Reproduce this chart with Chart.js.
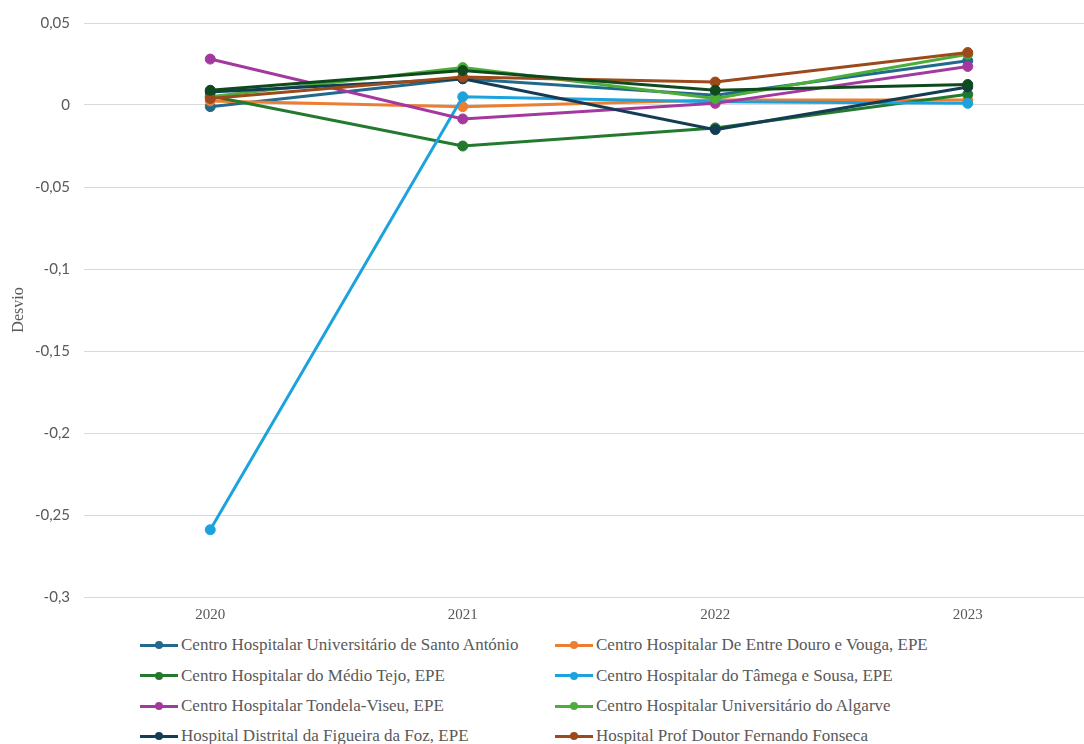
<!DOCTYPE html>
<html>
<head>
<meta charset="utf-8">
<script src="https://cdn.jsdelivr.net/npm/chart.js@4.4.1/dist/chart.umd.min.js"></script>
<style>
  html, body { margin: 0; padding: 0; background: #ffffff; }
  #wrap { position: relative; width: 1084px; height: 744px; overflow: hidden; background: #fff; }
  #box { position: absolute; left: 0; top: 0; width: 1100px; height: 632px; }
  .leg { position: absolute; display: flex; align-items: center; font-family: "Liberation Serif", "Times New Roman", serif; font-size: 17px; color: #595959; white-space: nowrap; height: 20px; }
  .sw { position: relative; width: 38px; height: 20px; margin-right: 3px; }
  .sw .ln { position: absolute; left: 0; right: 0; top: 8.5px; height: 3px; }
  .sw .dt { position: absolute; left: 15px; top: 6px; width: 8px; height: 8px; border-radius: 50%; }
</style>
</head>
<body>
<div id="wrap">
  <div id="box"><canvas id="c" width="1100" height="632"></canvas></div>
</div>
<script>
const years = ['2020', '2021', '2022', '2023'];
const yTicks = [0.05, 0, -0.05, -0.1, -0.15, -0.2, -0.25, -0.3];

const seriesNames = [
  'Centro Hospitalar Universitário de Santo António',
  'Centro Hospitalar De Entre Douro e Vouga, EPE',
  'Centro Hospitalar do Médio Tejo, EPE',
  'Centro Hospitalar do Tâmega e Sousa, EPE',
  'Centro Hospitalar Tondela-Viseu, EPE',
  'Centro Hospitalar Universitário do Algarve',
  'Hospital Distrital da Figueira da Foz, EPE',
  'Hospital Prof Doutor Fernando Fonseca',
  ''
];
const seriesColors = ['#22698c', '#ed7d31', '#237a2e', '#1ca3de', '#a3399f', '#4cae3a', '#133d54', '#9c4a1b', '#0f4a1e'];

const santoAntonio = [-0.001, 0.016, 0.006, 0.027];
const entreDouro   = [0.0025, -0.001, 0.003, 0.003];
const medioTejo    = [0.0055, -0.025, -0.014, 0.0065];
const tamega       = [-0.259, 0.005, 0.002, 0.001];
const tondela      = [0.028, -0.0085, 0.001, 0.0235];
const algarve      = [0.005, 0.0228, 0.004, 0.031];
const figueira     = [0.008, 0.016, -0.015, 0.011];
const fonseca      = [0.004, 0.017, 0.014, 0.032];
const outroHosp    = [0.009, 0.021, 0.009, 0.0125];

const seriesValues = [santoAntonio, entreDouro, medioTejo, tamega, tondela, algarve, figueira, fonseca, outroHosp];

const datasets = seriesValues.map((vals, i) => ({
  label: seriesNames[i],
  data: vals,
  borderColor: seriesColors[i],
  backgroundColor: seriesColors[i],
  pointBackgroundColor: seriesColors[i],
  pointBorderColor: seriesColors[i],
  borderWidth: 3,
  pointRadius: 5,
  pointBorderWidth: 1,
  tension: 0,
  order: -i
}));

function fmt(v) {
  const r = Math.round(v * 100) / 100;
  if (r === 0) return '0';
  return String(r).replace('.', ',');
}

new Chart(document.getElementById('c'), {
  type: 'line',
  data: { labels: years, datasets: datasets },
  options: {
    responsive: false,
    devicePixelRatio: 1,
    animation: false,
    layout: { padding: { top: 23, right: 3, left: 0, bottom: 0 } },
    plugins: { legend: { display: false }, tooltip: { enabled: false } },
    scales: {
      x: {
        offset: true,
        grid: { display: false, drawTicks: false },
        border: { display: false },
        ticks: { color: '#595959', padding: 9, font: { family: '"Liberation Serif", serif', size: 15 } },
        afterFit: s => { s.height = 35; }
      },
      y: {
        min: -0.3, max: 0.05,
        afterBuildTicks: s => { s.ticks = yTicks.map(v => ({ value: v })); },
        grid: { color: '#d9d9d9', lineWidth: 1, drawTicks: false },
        border: { display: false },
        ticks: { color: '#595959', padding: 14, font: { family: 'Lato, "Open Sans", sans-serif', size: 15 }, callback: v => fmt(v) },
        title: { display: true, text: 'Desvio', color: '#595959', padding: 9, font: { family: '"Liberation Serif", serif', size: 16 } },
        afterFit: s => { s.width = 84; }
      }
    }
  }
});

const wrap = document.getElementById('wrap');
const rowsY = [645, 675.5, 706, 736];
const colsX = [140, 555];
seriesNames.forEach((name, i) => {
  if (!name) return;
  const row = Math.floor(i / 2), col = i % 2;
  const d = document.createElement('div');
  d.className = 'leg';
  d.style.left = colsX[col] + 'px';
  d.style.top = (rowsY[row] - 10) + 'px';
  d.innerHTML = '<div class="sw"><div class="ln" style="background:' + seriesColors[i] + '"></div><div class="dt" style="background:' + seriesColors[i] + '"></div></div><span>' + name + '</span>';
  wrap.appendChild(d);
});
</script>
</body>
</html>
